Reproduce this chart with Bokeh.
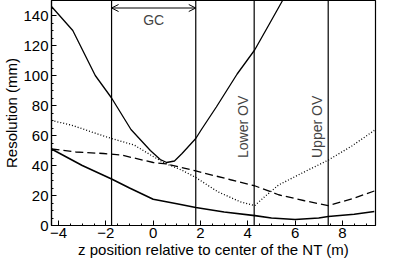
import math
from bokeh.plotting import figure
from bokeh.models import Range1d, Label, Arrow, OpenHead, Span, SingleIntervalTicker
from bokeh.embed import file_html
from bokeh.resources import INLINE

# Steep solid curve
a_x = [-4.3, -3.4, -2.45, -1.76, -0.94, -0.12, 0.3, 0.57, 0.9, 1.22, 1.8, 2.04, 2.67, 3.55, 4.29, 4.9, 5.47]
a_y = [146, 130, 100, 85, 64, 50, 44, 42, 43, 48, 58, 64, 79, 101, 117, 134, 150]
# Dotted curve
b_x = [-4.3, -3.47, -2.16, -1.76, -0.8, 0.0, 0.57, 1.2, 1.8, 2.73, 3.67, 4.29, 4.7, 5.3, 6.4, 7.4, 8.4, 9.35]
b_y = [70, 67, 60, 58, 53.6, 46, 41, 37, 32, 22.5, 15.9, 13.2, 19, 27, 35.8, 43.6, 53, 63.4]
# Dashed curve
c_x = [-4.3, -3.27, -2.1, -1.35, 0.0, 0.57, 1.8, 3.27, 4.29, 5.3, 6.4, 7.4, 8.45, 9.35]
c_y = [51, 49, 48, 47, 42, 41, 36.4, 30.5, 26.5, 20.5, 16.5, 13.2, 18, 23]
# Lower solid curve
d_x = [-4.3, -3.0, -1.76, -1.0, 0.0, 1.0, 1.8, 3.0, 4.3, 5.0, 6.0, 7.0, 7.4, 8.5, 9.35]
d_y = [51, 40, 31, 25, 17.5, 14.5, 12, 9, 6.6, 5, 4, 5, 6, 7.5, 9.3]

vlines = [-1.76, 1.8, 4.27, 7.4]
gc_range = [-1.76, 1.8]
ov_labels = ["Lower OV", "Upper OV"]
ov_pos = [4.27, 7.4]

FONT = "Liberation Sans"

p = figure(width=379, height=260, output_backend="svg", toolbar_location=None,
           x_range=Range1d(-4.3, 9.4), y_range=Range1d(0, 150),
           min_border_top=0, min_border_right=4, min_border_left=0, min_border_bottom=0)
p.grid.visible = False
p.outline_line_color = "black"
p.outline_line_width = 1.2

for ax in (p.xaxis[0], p.yaxis[0]):
    ax.axis_line_color = "black"
    ax.axis_line_width = 1.2
    ax.major_tick_in = 5
    ax.major_tick_out = 0
    ax.minor_tick_in = 2
    ax.minor_tick_out = 0
    ax.major_label_text_font = FONT
    ax.major_label_text_font_size = "15px"
    ax.major_label_text_color = "black"
    ax.axis_label_text_font = FONT
    ax.axis_label_text_font_size = "15px"
    ax.axis_label_text_font_style = "normal"
    ax.axis_label_text_color = "black"

p.xaxis.major_label_standoff = 2
p.xaxis.axis_label_standoff = 0
p.yaxis.major_label_standoff = 3
p.yaxis.axis_label_standoff = 0

p.xaxis.ticker = SingleIntervalTicker(interval=2, num_minor_ticks=4)
p.yaxis.ticker = SingleIntervalTicker(interval=20, num_minor_ticks=4)
p.xaxis.axis_label = "z position relative to center of the NT (m)"
p.yaxis.axis_label = "Resolution (mm)"

for v in vlines:
    p.add_layout(Span(location=v, dimension="height", line_color="black", line_width=1.2))

p.line(a_x, a_y, line_color="black", line_width=1.3)
p.line(b_x, b_y, line_color="black", line_width=1.3, line_dash="1 2")
p.line(c_x, c_y, line_color="black", line_width=1.3, line_dash="8 4")
p.line(d_x, d_y, line_color="black", line_width=1.6)

p.add_layout(Arrow(x_start=gc_range[0], x_end=gc_range[1], y_start=145, y_end=145,
                   line_color="black", line_width=1,
                   start=OpenHead(size=7, line_width=1), end=OpenHead(size=7, line_width=1)))
p.add_layout(Label(x=(gc_range[0] + gc_range[1]) / 2, y=137, text="GC", text_align="center",
                   text_baseline="middle", text_font=FONT, text_font_size="14px"))
for t, xp in zip(ov_labels, ov_pos):
    p.add_layout(Label(x=xp, y=45, text=t, angle=math.pi / 2, text_align="left",
                       text_baseline="bottom", x_offset=-3, text_font=FONT,
                       text_font_size="14px"))

open("out.html", "w").write(file_html(p, INLINE))
